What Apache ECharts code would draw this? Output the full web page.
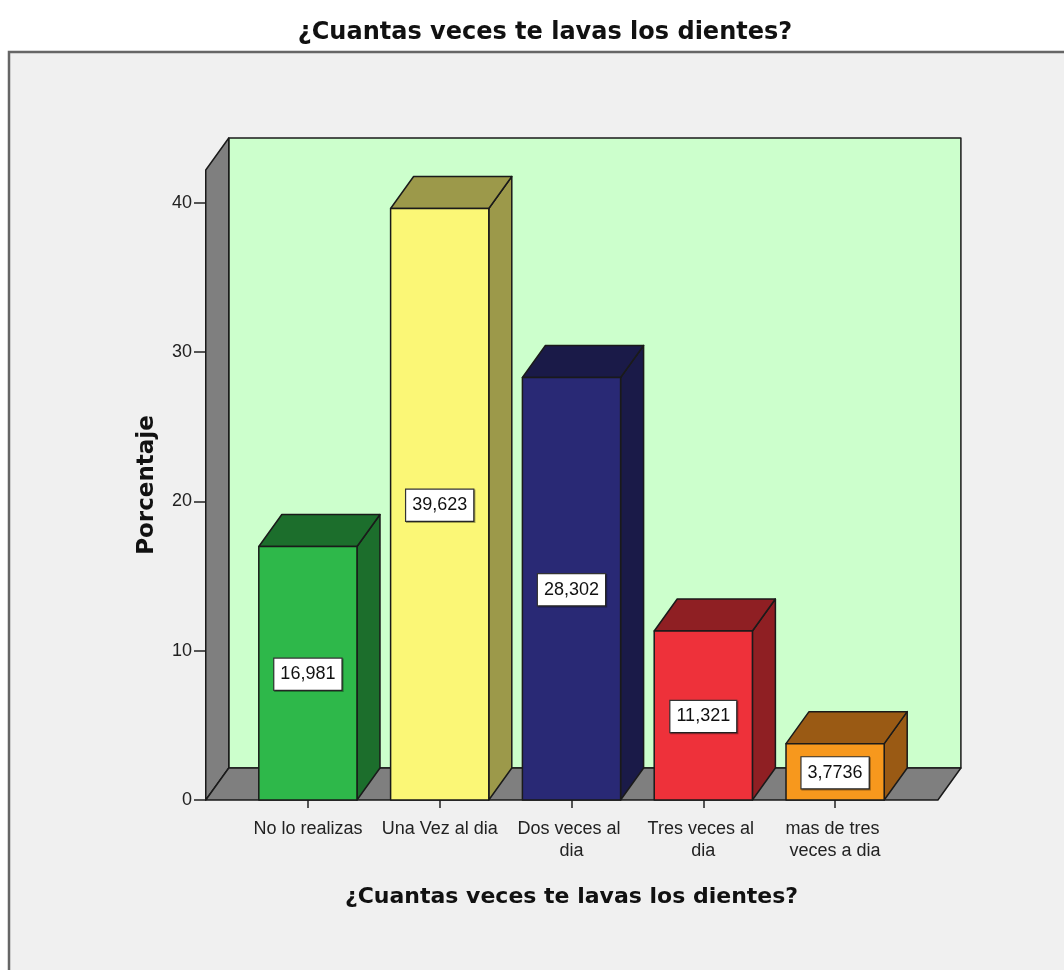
<!DOCTYPE html>
<html>
<head>
<meta charset="utf-8">
<title>¿Cuantas veces te lavas los dientes?</title>
<script src="https://cdn.jsdelivr.net/npm/echarts@6/dist/echarts.min.js"></script>
<style>
  html, body { margin: 0; padding: 0; background: #fff; }
  #chart { width: 1064px; height: 970px; }
</style>
</head>
<body>
<div id="chart"></div>
<script>
// data
const categories = ['No lo realizas', 'Una Vez al dia', 'Dos veces al dia', 'Tres veces al dia', 'mas de tres veces a dia'];
const percentages = [16.981, 39.623, 28.302, 11.321, 3.7736];
const yTicks = [0, 10, 20, 30, 40];
const yMax = 42.2;

// look of the 3d boxes
const frontColors = ['#2eb84a', '#fbf776', '#292975', '#ee313a', '#f7981d'];
const sideColors = ['#1c6e2c', '#9c994a', '#1a1a48', '#8f1f23', '#9a5a14'];
const DX = 23, DY = -32;      // depth offset of the 3d effect
const BAR_FRAC = 0.745;        // bar width / band width
const EDGE = '#1a1a1a';
const TXT = "'Liberation Sans', Arial, sans-serif";
const BOLD = "'DejaVu Sans', Verdana, sans-serif";

function fmt(v) {
    return String(v).replace('.', ',');
}

function renderWalls(params, api) {
    const bw = api.size([1, 0])[0];
    const p0 = api.coord([0, 0]);
    const xL = p0[0] - 0.775 * bw;
    const xR = api.coord([categories.length - 1, 0])[0] + 0.78 * bw;
    const yB = p0[1];
    const yT = api.coord([0, yMax])[1];
    const line = { stroke: EDGE, lineWidth: 1.5, lineJoin: 'round' };
    return {
        type: 'group',
        children: [
            { type: 'rect', shape: { x: xL + DX, y: yT + DY, width: xR - xL, height: yB - yT },
              style: Object.assign({ fill: '#ccffcc' }, line) },
            { type: 'polygon', shape: { points: [[xL, yB], [xL, yT], [xL + DX, yT + DY], [xL + DX, yB + DY]] },
              style: Object.assign({ fill: '#7f7f7f' }, line) },
            { type: 'polygon', shape: { points: [[xL, yB], [xR, yB], [xR + DX, yB + DY], [xL + DX, yB + DY]] },
              style: Object.assign({ fill: '#7f7f7f' }, line) }
        ]
    };
}

function renderBar(params, api) {
    const i = api.value(0);
    const v = api.value(1);
    const base = api.coord([i, 0]);
    const top = api.coord([i, v]);
    const w = api.size([1, 0])[0] * BAR_FRAC;
    const xl = base[0] - w / 2, xr = base[0] + w / 2;
    const yb = base[1], yt = top[1];
    const line = { stroke: EDGE, lineWidth: 1.5, lineJoin: 'round' };
    return {
        type: 'group',
        children: [
            { type: 'polygon', shape: { points: [[xr, yt], [xr + DX, yt + DY], [xr + DX, yb + DY], [xr, yb]] },
              style: Object.assign({ fill: sideColors[i] }, line) },
            { type: 'polygon', shape: { points: [[xl, yt], [xl + DX, yt + DY], [xr + DX, yt + DY], [xr, yt]] },
              style: Object.assign({ fill: sideColors[i] }, line) },
            { type: 'rect', shape: { x: xl, y: yt, width: w, height: yb - yt },
              style: Object.assign({ fill: frontColors[i] }, line) },
            { type: 'text', x: base[0], y: (yt + yb) / 2 + 1,
              style: {
                  text: fmt(percentages[i]), fill: '#111', fontSize: 18, fontFamily: TXT,
                  align: 'center', verticalAlign: 'middle',
                  backgroundColor: '#fff', borderColor: '#333', borderWidth: 1.2,
                  padding: [7, 6, 6, 6],
                  shadowColor: 'rgba(0,0,0,0.35)', shadowOffsetX: 1, shadowOffsetY: 1
              } }
        ]
    };
}

const chart = echarts.init(document.getElementById('chart'));
const option = {
    backgroundColor: '#fff',
    animation: false,
    title: {
        text: '¿Cuantas veces te lavas los dientes?',
        left: 540,
        top: 16,
        textAlign: 'center',
        textStyle: { fontFamily: BOLD, fontSize: 24, fontWeight: 'bold', color: '#111' }
    },
    graphic: [{
        type: 'rect', z: -10, silent: true,
        shape: { x: 9, y: 52, width: 1080, height: 940 },
        style: { fill: '#f0f0f0', stroke: '#666', lineWidth: 2.5 }
    }],
    grid: { left: 242, right: 163, top: 170, bottom: 170 },
    xAxis: {
        type: 'category',
        data: categories,
        axisLine: { show: false },
        axisTick: { show: true, alignWithLabel: true, length: 8, lineStyle: { color: '#222', width: 1.5 } },
        axisLabel: {
            interval: 0, margin: 18, width: 120, overflow: 'break',
            fontSize: 18, lineHeight: 22, fontFamily: TXT, color: '#222'
        },
        name: '¿Cuantas veces te lavas los dientes?',
        nameLocation: 'middle',
        nameGap: 86,
        nameTextStyle: { fontFamily: BOLD, fontSize: 22, fontWeight: 'bold', color: '#111' }
    },
    yAxis: {
        type: 'value',
        min: 0,
        max: yMax,
        interval: 10,
        offset: 36,
        splitLine: { show: false },
        axisLine: { show: false },
        axisTick: { show: true, length: 12, customValues: yTicks, lineStyle: { color: '#222', width: 1.5 } },
        axisLabel: { margin: 14, customValues: yTicks, fontSize: 18, fontFamily: TXT, color: '#222' },
        name: 'Porcentaje',
        nameLocation: 'middle',
        nameGap: 47,
        nameTextStyle: { fontFamily: BOLD, fontSize: 23, fontWeight: 'bold', color: '#111' }
    },
    series: [
        {
            type: 'custom',
            name: 'walls',
            z: 1,
            silent: true,
            renderItem: renderWalls,
            data: [[0, 0]]
        },
        {
            type: 'custom',
            name: 'Porcentaje',
            z: 2,
            renderItem: renderBar,
            data: percentages.map((v, i) => [i, v])
        }
    ]
};
chart.setOption(option);
window.onresize = () => { chart.resize(); };
</script>
</body>
</html>
